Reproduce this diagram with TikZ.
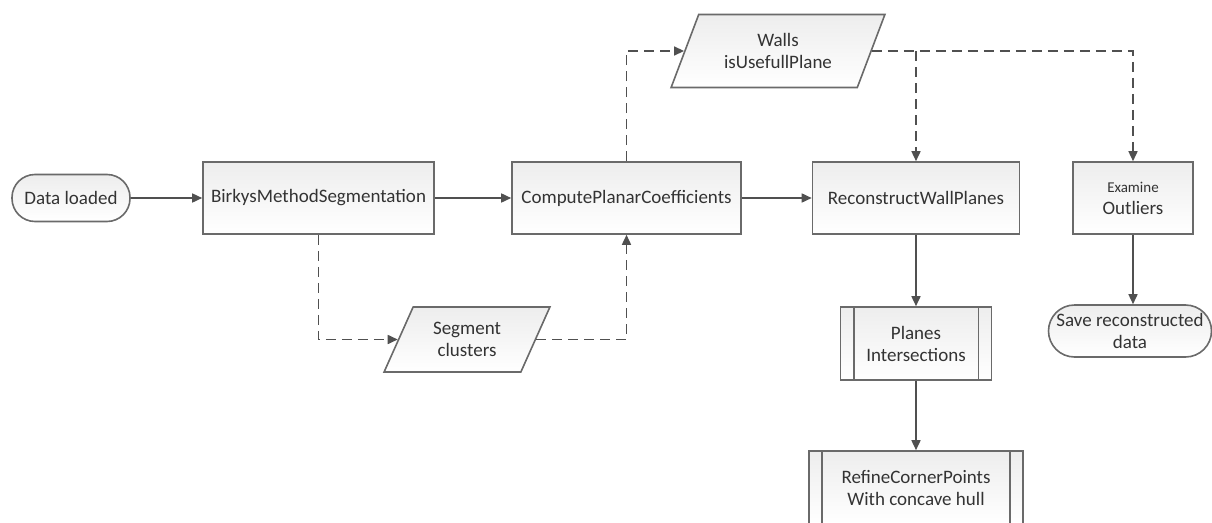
\documentclass[tikz,border=0pt]{standalone}
\usepackage{fontspec}
\setmainfont{Carlito}
\usetikzlibrary{shapes.geometric,arrows.meta,calc}
\definecolor{ln}{HTML}{505050}
\definecolor{bd}{HTML}{6A6A6A}
\definecolor{tx}{HTML}{333333}
\tikzset{
 base/.style={draw=bd, line width=1.6pt, top color=gray!14, bottom color=white, align=center, font=\fontsize{19}{22}\selectfont, text=tx, inner sep=0pt},
 proc/.style={base, rectangle, minimum height=72pt},
 term/.style={base, rectangle},
 data/.style={base, trapezium, trapezium left angle=62, trapezium right angle=118, trapezium stretches=true},
 flow/.style={draw=ln, line width=1.6pt, -{Triangle[length=10pt,width=9pt]}},
 dflow/.style={flow, dash pattern=on 10pt off 6pt},
 side/.style={draw=bd, line width=1.6pt},
}
\begin{document}
\begin{tikzpicture}[x=1pt,y=-1pt]
\useasboundingbox (0,0) rectangle (1212,522);
\clip (0,0) rectangle (1212,522);
\node[term, rounded corners=23pt, minimum width=118pt, minimum height=47pt] (dl) at (71,198) {Data loaded};
\node[proc, minimum width=231pt] (bk) at (318.5,198) {BirkysMethodSegmentation};
\node[proc, minimum width=229pt] (cp) at (626.5,198) {ComputePlanarCoefficients};
\node[proc, minimum width=207pt] (rw) at (916,198) {ReconstructWallPlanes};
\node[proc, minimum width=120pt] (ex) at (1133,198) {{\fontsize{15}{18}\selectfont Examine}\\Outliers};
\node[data, minimum width=214pt, minimum height=73pt] (wl) at (778,51) {Walls\\isUsefullPlane};
\node[data, minimum width=166pt, minimum height=65pt] (sg) at (467,339.5) {Segment\\clusters};
\node[proc, minimum width=151pt, minimum height=73pt] (pi) at (916,343.5) {Planes\\Intersections};
\draw[side] ([xshift=14pt]pi.north west) -- ([xshift=14pt]pi.south west);
\draw[side] ([xshift=-14pt]pi.north east) -- ([xshift=-14pt]pi.south east);
\node[term, rounded corners=26pt, minimum width=163pt, minimum height=52pt] (sv) at (1130,331) {Save reconstructed\\data};
\node[proc, minimum width=214pt, minimum height=73pt] (rf) at (916,487.5) {RefineCornerPoints\\With concave hull};
\draw[side] ([xshift=14pt]rf.north west) -- ([xshift=14pt]rf.south west);
\draw[side] ([xshift=-14pt]rf.north east) -- ([xshift=-14pt]rf.south east);
% solid
\draw[flow] (dl) -- (bk);
\draw[flow] (bk) -- (cp);
\draw[flow] (cp) -- (rw);
\draw[flow] (rw) -- (pi);
\draw[flow] (pi) -- (rf);
\draw[flow] (ex.south) -- (ex.south |- sv.north);
% dashed
\draw[dflow] (bk.south) |- (sg.west);
\draw[dflow] (sg.east) -| (cp.south);
\draw[dflow] (cp.north) |- (wl.west);
\draw[dflow] (wl.east) -| (ex.north);
\coordinate (br) at (wl.east -| rw.north);
\draw[dflow] (br) -- (rw.north);
\end{tikzpicture}
\end{document}
